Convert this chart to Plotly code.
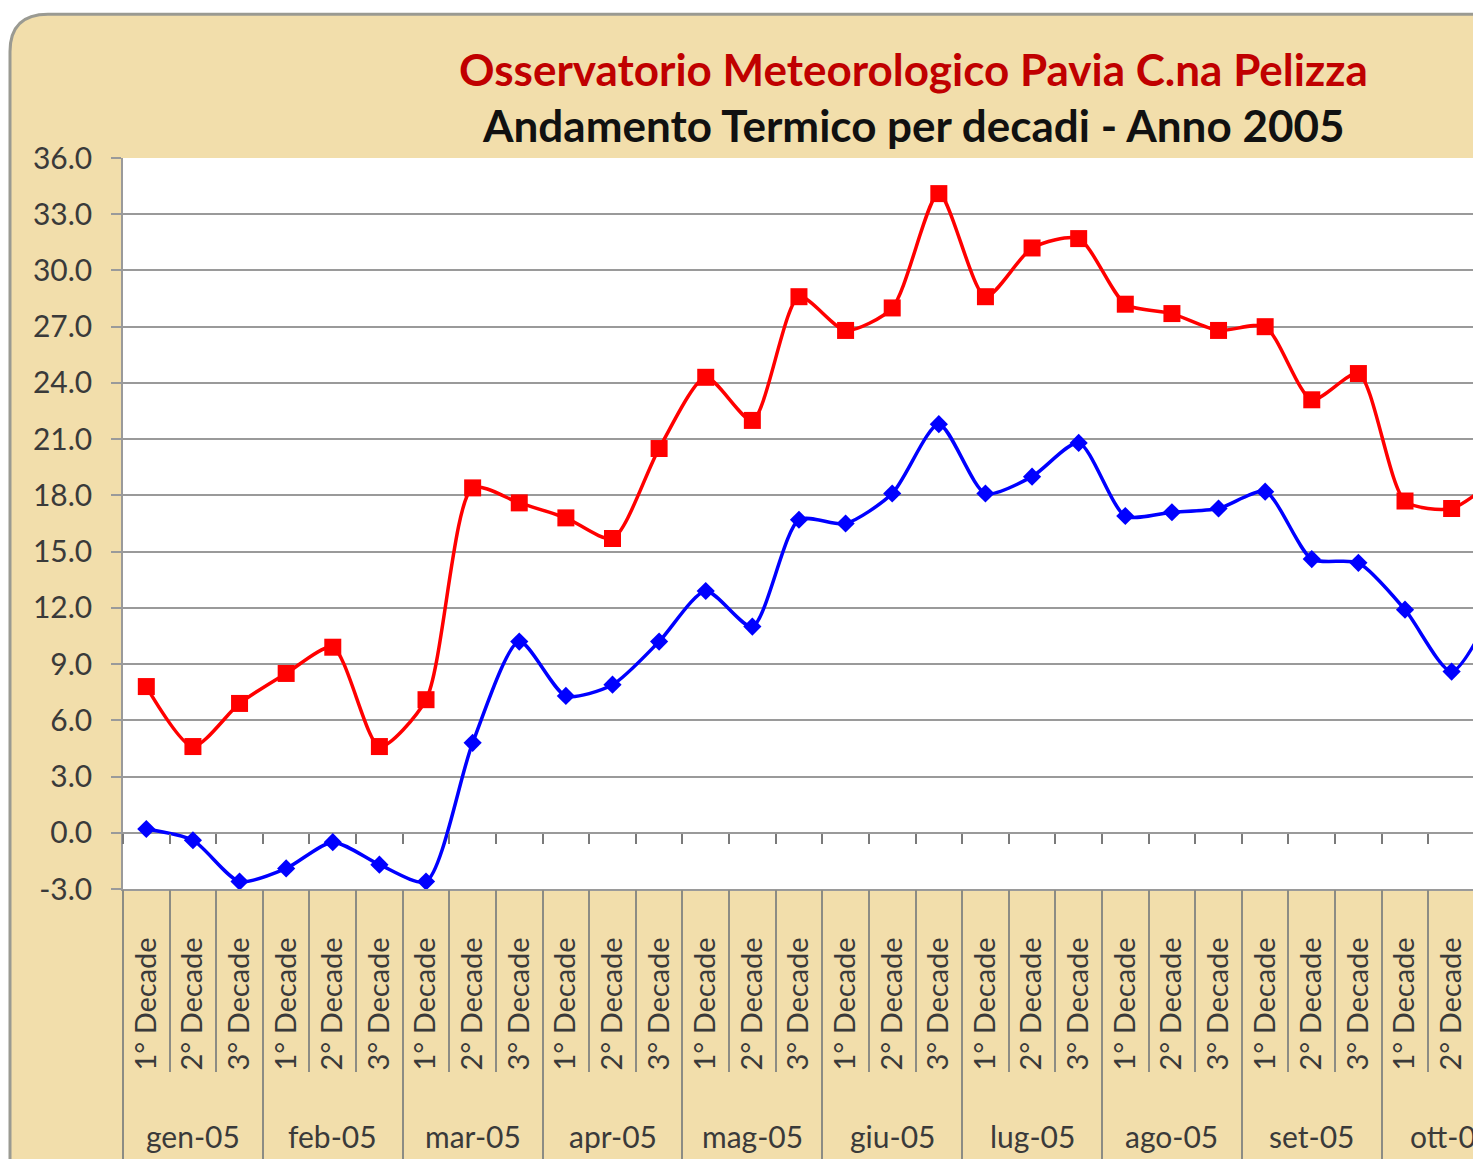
import plotly.graph_objects as go

# ---------------- data ----------------
months = ["gen-05", "feb-05", "mar-05", "apr-05", "mag-05", "giu-05",
          "lug-05", "ago-05", "set-05", "ott-05"]
decades = ["1° Decade", "2° Decade", "3° Decade"]

t_max = [7.8, 4.6, 6.9, 8.5, 9.9, 4.6, 7.1, 18.4, 17.6, 16.8, 15.7, 20.5,
         24.3, 22.0, 28.6, 26.8, 28.0, 34.1, 28.6, 31.2, 31.7, 28.2, 27.7, 26.8,
         27.0, 23.1, 24.5, 17.7, 17.3, 19.0]
t_min = [0.2, -0.4, -2.6, -1.9, -0.5, -1.7, -2.6, 4.8, 10.2, 7.3, 7.9, 10.2,
         12.9, 11.0, 16.7, 16.5, 18.1, 21.8, 18.1, 19.0, 20.8, 16.9, 17.1, 17.3,
         18.2, 14.6, 14.4, 11.9, 8.6, 12.5]

y_ticks = [-3.0, 0.0, 3.0, 6.0, 9.0, 12.0, 15.0, 18.0, 21.0, 24.0, 27.0, 30.0, 33.0, 36.0]

title1 = "Osservatorio Meteorologico Pavia C.na Pelizza"
title2 = "Andamento Termico per decadi - Anno 2005"

# ---------------- derived ----------------
n = len(t_max)
idx = list(range(n))
cat_text = [decades[i % 3] for i in idx]
dec_bounds = [i - 0.5 for i in range(n + 1)]
month_bounds = [3 * m - 0.5 for m in range(len(months) + 1)]
month_centers = [3 * m + 1 for m in range(len(months))]

OFF = 8  # page body margin
W, H = 1481 - OFF, 1159 - OFF
L, R, T = 123 - OFF, 0, 158 - OFF
B = H - (900 - OFF)
pw, ph = W - L - R, H - T - B
XMAX = 28.63

def px(xr):  # reference pixel -> paper
    return (xr - OFF - L) / pw

def py(yr):
    return (H - B - (yr - OFF)) / ph

FONT = "Lato"
GRID = "#9a9a9a"
TXT = "#3a3a3a"

fig = go.Figure()
fig.add_trace(go.Scatter(
    x=idx, y=t_min, mode="lines+markers", name="Min",
    line=dict(color="#0000FF", width=3.5, shape="spline", smoothing=0.7),
    marker=dict(symbol="diamond", size=14, color="#0000FF"),
    showlegend=False, cliponaxis=True))
fig.add_trace(go.Scatter(
    x=idx, y=t_max, mode="lines+markers", name="Max",
    line=dict(color="#FF0000", width=3.5, shape="spline", smoothing=0.7),
    marker=dict(symbol="square", size=17, color="#FF0000"),
    showlegend=False, cliponaxis=True))

# rounded tan frame
x0, x1 = px(10), px(1481 + 40)
yt, yb = py(12), py(1159 + 40)
rx, ry = 38 / pw, 38 / ph
frame = (f"M {x0},{yb} L {x0},{yt - ry} Q {x0},{yt} {x0 + rx},{yt} "
         f"L {x1},{yt} L {x1},{yb} Z")
shapes = [
    dict(type="path", path=frame, xref="paper", yref="paper", layer="below",
         fillcolor="#F2DEAB", line=dict(color="#9a9a92", width=3)),
    dict(type="rect", xref="paper", yref="paper", x0=0, x1=1.05, y0=0, y1=1,
         layer="below", fillcolor="white", line=dict(width=0)),
]

annotations = [
    dict(text=f"<b>{title1}</b>", x=px(913), y=py(68), xref="paper", yref="paper",
         showarrow=False, xanchor="center", yanchor="middle",
         font=dict(family=FONT, size=44, color="#C00000")),
    dict(text=f"<b>{title2}</b>", x=px(913), y=py(125), xref="paper", yref="paper",
         showarrow=False, xanchor="center", yanchor="middle",
         font=dict(family=FONT, size=44, color="#111111")),
]
for m, c in zip(months, month_centers):
    annotations.append(dict(text=m, x=c, y=py(1151), xref="x", yref="paper",
                            showarrow=False, xanchor="center", yanchor="middle",
                            font=dict(family=FONT, size=30, color=TXT)))

fig.update_layout(
    width=W, height=H, autosize=False,
    margin=dict(l=L, r=R, t=T, b=B, pad=0),
    paper_bgcolor="white", plot_bgcolor="white",
    shapes=shapes, annotations=annotations,
    xaxis=dict(range=[-0.5, XMAX], tickmode="array", tickvals=idx, ticktext=cat_text,
               tickangle=-90, ticks="", showgrid=False, zeroline=False,
               showline=True, linecolor=GRID, linewidth=1.5,
               ticklabelstandoff=35,
               tickfont=dict(family=FONT, size=29, color=TXT)),
    xaxis2=dict(overlaying="x", anchor="y", side="bottom", range=[-0.5, XMAX],
                tickmode="array", tickvals=dec_bounds, showticklabels=False,
                ticks="outside", ticklen=182, tickwidth=1.5, tickcolor="#8c8c84",
                showgrid=False, zeroline=False, showline=False),
    xaxis3=dict(overlaying="x", anchor="y", side="bottom", range=[-0.5, XMAX],
                tickmode="array", tickvals=month_bounds, showticklabels=False,
                ticks="outside", ticklen=270, tickwidth=1.5, tickcolor="#8c8c84",
                showgrid=False, zeroline=False, showline=False),
    xaxis4=dict(overlaying="x", anchor="free", position=3 / 39, side="bottom",
                range=[-0.5, XMAX], tickmode="array", tickvals=dec_bounds,
                showticklabels=False, ticks="outside", ticklen=10, tickwidth=1.5,
                tickcolor="#7a7a7a", showgrid=False, zeroline=False, showline=False),
    yaxis=dict(range=[-3, 36], tickmode="array", tickvals=y_ticks,
               ticktext=[f"{v:.1f}" for v in y_ticks],
               ticks="outside", ticklen=10, tickwidth=1.5, tickcolor=GRID,
               showgrid=True, gridcolor=GRID, gridwidth=1.5, zeroline=False,
               showline=True, linecolor=GRID, linewidth=1.5,
               ticklabelstandoff=13,
               tickfont=dict(family=FONT, size=30, color=TXT)),
)

for ax in ["x2", "x3", "x4"]:
    fig.add_trace(go.Scatter(x=[], y=[], xaxis=ax, yaxis="y", showlegend=False,
                             hoverinfo="skip"))

fig.write_html("out.html")
